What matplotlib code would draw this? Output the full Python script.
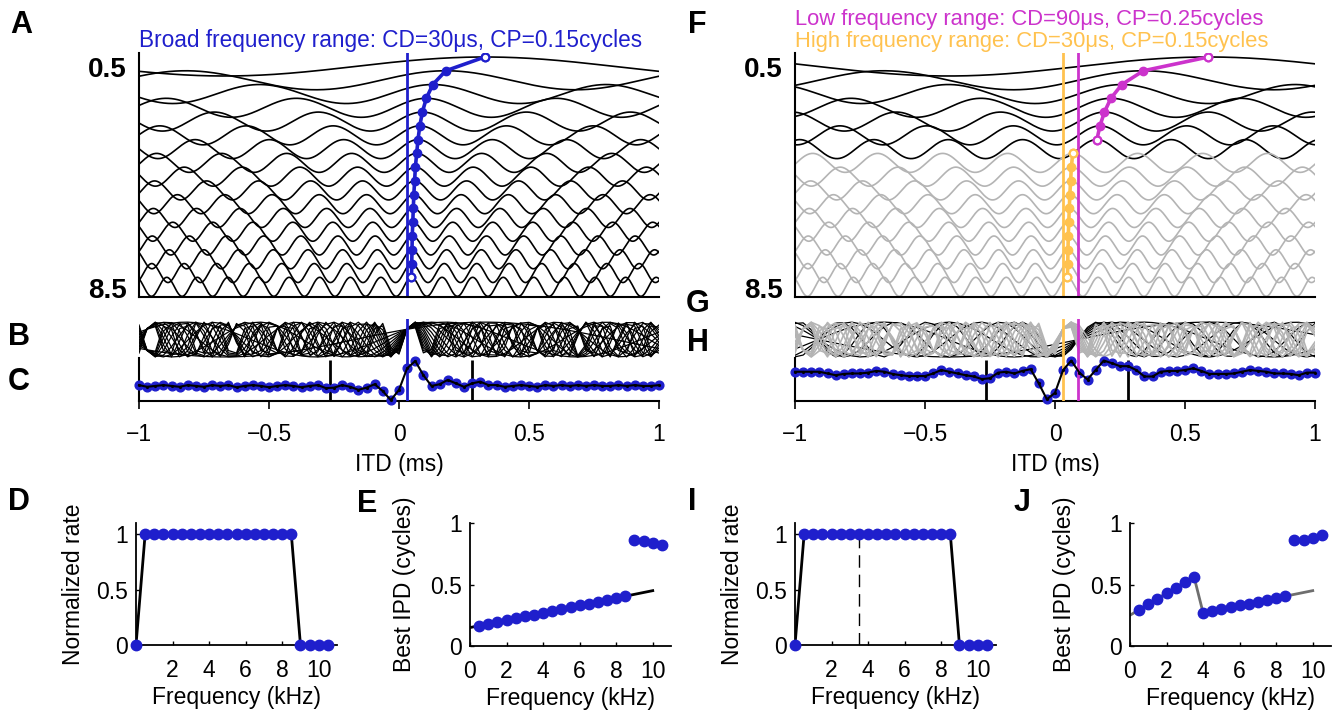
import numpy as np
import matplotlib.pyplot as plt

plt.rcParams['font.family'] = ['Liberation Sans', 'DejaVu Sans']

BLUE = '#1f1fcc'
MAGENTA = '#cc33cc'
ORANGE = '#ffc24f'
GREY = '#b4b4b4'

freqs = [0.5, 1.0, 1.5, 2.0, 2.5, 3.0, 3.5, 4.0, 4.5, 5.0, 5.5, 6.0, 6.5, 7.0, 7.5, 8.0, 8.5]
best_broad = [0.33, 0.18, 0.13, 0.105, 0.09, 0.08, 0.073, 0.068, 0.063,
              0.06, 0.057, 0.055, 0.053, 0.051, 0.05, 0.049, 0.048]
best_low = [0.59, 0.34, 0.257, 0.215, 0.19, 0.173, 0.161]
best_high = [0.068, 0.063, 0.06, 0.057, 0.055, 0.053, 0.051, 0.05, 0.049, 0.048]
cd_broad = 0.03
cd_low = 0.09
cd_high = 0.03
n_low = 7

# population response (panels C and H), 65 ITDs from -1 to 1 ms
c_resp = [0.37, 0.33, 0.35, 0.37, 0.35, 0.33, 0.37, 0.35, 0.33, 0.37,
          0.35, 0.37, 0.32, 0.35, 0.37, 0.35, 0.32, 0.35, 0.37, 0.35,
          0.32, 0.35, 0.37, 0.30, 0.31, 0.37, 0.33, 0.26, 0.31, 0.39,
          0.23, 0.02, 0.26, 0.76, 0.93, 0.60, 0.35, 0.39, 0.49, 0.41,
          0.33, 0.41, 0.45, 0.37, 0.37, 0.33, 0.35, 0.37, 0.35, 0.33,
          0.37, 0.35, 0.37, 0.35, 0.37, 0.35, 0.37, 0.35, 0.35, 0.37,
          0.35, 0.37, 0.35, 0.35, 0.37]
h_resp = [0.68, 0.68, 0.68, 0.68, 0.64, 0.60, 0.63, 0.64, 0.64, 0.66,
          0.70, 0.68, 0.63, 0.60, 0.58, 0.58, 0.58, 0.64, 0.72, 0.68,
          0.64, 0.60, 0.57, 0.51, 0.53, 0.66, 0.68, 0.64, 0.70, 0.74,
          0.41, 0.04, 0.19, 0.72, 0.94, 0.66, 0.50, 0.72, 0.94, 0.88,
          0.81, 0.81, 0.72, 0.57, 0.57, 0.68, 0.70, 0.70, 0.72, 0.76,
          0.70, 0.63, 0.63, 0.63, 0.64, 0.68, 0.72, 0.70, 0.68, 0.64,
          0.64, 0.63, 0.60, 0.66, 0.66]
range_lines = [-0.265, 0.28]

# normalized rate vs frequency (D, I)
rate_freq = [0, 0.5, 1.0, 1.5, 2.0, 2.5, 3.0, 3.5, 4.0, 4.5, 5.0, 5.5,
             6.0, 6.5, 7.0, 7.5, 8.0, 8.5, 9.0, 9.5, 10.0, 10.5]
rate_vals = [0, 1, 1, 1, 1, 1, 1, 1, 1, 1, 1, 1, 1, 1, 1, 1, 1, 1, 0, 0, 0, 0]

# best IPD vs frequency (E, J)
ipd_freq = [0.5, 1.0, 1.5, 2.0, 2.5, 3.0, 3.5, 4.0, 4.5, 5.0, 5.5, 6.0,
            6.5, 7.0, 7.5, 8.0, 8.5, 9.0, 9.5, 10.0, 10.5]
ipd_broad = [0.165, 0.18, 0.195, 0.21, 0.225, 0.24, 0.255, 0.27, 0.285, 0.30,
             0.315, 0.33, 0.345, 0.36, 0.375, 0.39, 0.405, 0.86, 0.85, 0.84, 0.825]
ipd_split = [0.295, 0.34, 0.385, 0.43, 0.475, 0.52, 0.565, 0.27, 0.285, 0.30,
             0.315, 0.33, 0.345, 0.36, 0.375, 0.39, 0.405, 0.86, 0.865, 0.88, 0.905]
fit_broad_x = [0, 10]
fit_broad_y = [0.15, 0.45]
fit_split_x = [0, 3.5, 4.0, 10]
fit_split_y = [0.25, 0.565, 0.27, 0.45]
split_freq = 3.5

AMP = 1.38
itd_fine = np.linspace(-1, 1, 500)
itd_grid = np.linspace(-1, 1, 65)


def rate(itd, f, best):
    return 0.5 * (1 + np.cos(2 * np.pi * f * (itd - best)))


W, H = 1344, 711
fig = plt.figure(figsize=(W / 100, H / 100), dpi=100)


def px_axes(x0, y0, x1, y1):
    return fig.add_axes([x0 / W, 1 - y1 / H, (x1 - x0) / W, (y1 - y0) / H])


def stack_axes(ax):
    ax.set_xlim(-1, 1)
    ax.set_ylim(-16.05, 1.67)
    for s in ['top', 'right']:
        ax.spines[s].set_visible(False)
    for s in ['left', 'bottom']:
        ax.spines[s].set_linewidth(1.5)
    ax.set_xticks([])
    ax.set_yticks([0.62, -16 + 0.62], ['0.5', '8.5'])
    ax.tick_params(axis='y', length=0, pad=9, labelsize=20)
    for t in ax.get_yticklabels():
        t.set_fontweight('bold')


def markers(ax, best, rows, color):
    ys = [-i + AMP for i in rows]
    ax.plot(best, ys, color=color, lw=2.6, marker='o', ms=6, zorder=5)
    ax.plot([best[0], best[-1]], [ys[0], ys[-1]], ls='none', marker='o', ms=5.5,
            mfc='white', mec=color, mew=1.6, zorder=6)


# ---- A ----
axA = px_axes(139, 53, 659, 297)
stack_axes(axA)
for i, (f, b) in enumerate(zip(freqs, best_broad)):
    axA.plot(itd_fine, -i + AMP * rate(itd_fine, f, b), color='k', lw=1.2)
axA.axvline(cd_broad, color=BLUE, lw=2)
markers(axA, best_broad, range(17), BLUE)

# ---- F ----
axF = px_axes(795, 53, 1315, 297)
stack_axes(axF)
for i, (f, b) in enumerate(zip(freqs[:n_low], best_low)):
    axF.plot(itd_fine, -i + AMP * rate(itd_fine, f, b), color='k', lw=1.2)
for j, (f, b) in enumerate(zip(freqs[n_low:], best_high)):
    axF.plot(itd_fine, -(j + n_low) + AMP * rate(itd_fine, f, b), color=GREY, lw=1.2)
axF.axvline(cd_high, color=ORANGE, lw=2)
axF.axvline(cd_low, color=MAGENTA, lw=2)
markers(axF, best_low, range(n_low), MAGENTA)
markers(axF, best_high, range(n_low, 17), ORANGE)

fig.text(139 / W, 1 - 40 / H, 'Broad frequency range: CD=30μs, CP=0.15cycles',
         color=BLUE, fontsize=16.3, va='center')
fig.text(795 / W, 1 - 19 / H, 'Low frequency range: CD=90μs, CP=0.25cycles',
         color=MAGENTA, fontsize=15.8, va='center')
fig.text(795 / W, 1 - 42 / H, 'High frequency range: CD=30μs, CP=0.15cycles',
         color=ORANGE, fontsize=15.8, va='center')


# ---- B / G bands ----
def band_axes(x0):
    ax = px_axes(x0, 319, x0 + 520, 358)
    ax.set_xlim(-1, 1)
    ax.set_ylim(-0.03, 1.09)
    ax.axis('off')
    return ax


axB = band_axes(139)
for f, b in zip(freqs, best_broad):
    axB.plot(itd_grid, rate(itd_grid, f, b), color='k', lw=0.9)
axB.axvline(cd_broad, color=BLUE, lw=2)

axG = band_axes(795)
for f, b in zip(freqs[:n_low], best_low):
    axG.plot(itd_grid, rate(itd_grid, f, b), color='k', lw=0.9)
for f, b in zip(freqs[n_low:], best_high):
    axG.plot(itd_grid, rate(itd_grid, f, b), color=GREY, lw=1.2)
axG.axvline(cd_high, color=ORANGE, lw=2)
axG.axvline(cd_low, color=MAGENTA, lw=2)


# ---- C / H population response ----
def resp_axes(x0, resp, vlines):
    ax = px_axes(x0, 358, x0 + 520, 401)
    ax.set_xlim(-1, 1)
    ax.set_ylim(0, 1)
    for s in ['top', 'right']:
        ax.spines[s].set_visible(False)
    for s in ['left', 'bottom']:
        ax.spines[s].set_linewidth(1.5)
    ax.set_yticks([])
    ax.set_xticks([-1, -0.5, 0, 0.5, 1], ['\u22121', '\u22120.5', '0', '0.5', '1'])
    ax.tick_params(axis='x', direction='out', length=6, width=1.2, pad=10, labelsize=16.5)
    ax.vlines(range_lines, 0, 0.95, color='k', lw=2)
    for x, c in vlines:
        ax.axvline(x, color=c, lw=2, zorder=4)
    ax.plot(itd_grid, resp, ls='none', marker='o', ms=6.3, color=BLUE, zorder=3, clip_on=False)
    ax.plot(itd_grid, resp, color='k', lw=1.5, marker='.', ms=2.5, zorder=5, clip_on=False)
    ax.set_xlabel('ITD (ms)', fontsize=16.5)
    ax.xaxis.set_label_coords(0.5, -1.2)
    return ax


resp_axes(139, c_resp, [(cd_broad, BLUE)])
resp_axes(795, h_resp, [(cd_high, ORANGE), (cd_low, MAGENTA)])


# ---- D, E, I, J ----
def small_axes(x0, y0, y1, ylim):
    ax = px_axes(x0, y0, x0 + 201, y1)
    ax.set_xlim(0, 11)
    ax.set_ylim(*ylim)
    for s in ['top', 'right']:
        ax.spines[s].set_visible(False)
    for s in ['left', 'bottom']:
        ax.spines[s].set_linewidth(1.3)
    ax.set_yticks([0, 0.5, 1], ['0', '0.5', '1'])
    ax.tick_params(direction='in', length=3, width=1, labelsize=16.5)
    ax.tick_params(axis='x', pad=10)
    ax.tick_params(axis='y', pad=6)
    ax.set_xlabel('Frequency (kHz)', fontsize=16.5)
    return ax


def rate_panel(x0, dashed):
    ax = small_axes(x0, 523, 645, (0, 1.1))
    ax.set_xticks([2, 4, 6, 8, 10])
    if dashed:
        ax.plot([split_freq, split_freq], [0, 1], color='k', lw=1, dashes=(9, 5))
    ax.plot(rate_freq, rate_vals, color='k', lw=2)
    ax.plot(rate_freq, rate_vals, ls='none', marker='o', ms=7.5, color=BLUE, clip_on=False, zorder=5)
    ax.set_ylabel('Normalized rate', fontsize=16.5)
    ax.yaxis.set_label_coords(-0.255, 0.5)
    ax.xaxis.set_label_coords(0.5, -0.34)
    return ax


def ipd_panel(x0, fx, fy, fcolor, vals):
    ax = small_axes(x0, 523, 646, (0, 1))
    ax.set_xticks([0, 2, 4, 6, 8, 10])
    ax.plot(fx, fy, color=fcolor, lw=2)
    ax.plot(ipd_freq, vals, ls='none', marker='o', ms=7.5, color=BLUE, clip_on=False, zorder=5)
    ax.set_ylabel('Best IPD (cycles)', fontsize=16.5)
    ax.yaxis.set_label_coords(-0.27, 0.5)
    ax.xaxis.set_label_coords(0.5, -0.335)
    return ax


rate_panel(136, False)
ipd_panel(470, fit_broad_x, fit_broad_y, 'k', ipd_broad)
rate_panel(795, True)
ipd_panel(1130, fit_split_x, fit_split_y, '#6e6e6e', ipd_split)

# panel letters
letters = {'A': (21, 25), 'B': (19, 337), 'C': (19, 382), 'D': (19, 502),
           'E': (367, 504), 'F': (697, 25), 'G': (698, 304), 'H': (698, 343),
           'I': (692, 502), 'J': (1022, 503)}
for k, (x, y) in letters.items():
    fig.text(x / W, 1 - y / H, k, fontsize=22, fontweight='bold', ha='center', va='center')

fig.savefig('out.png', dpi=100)
